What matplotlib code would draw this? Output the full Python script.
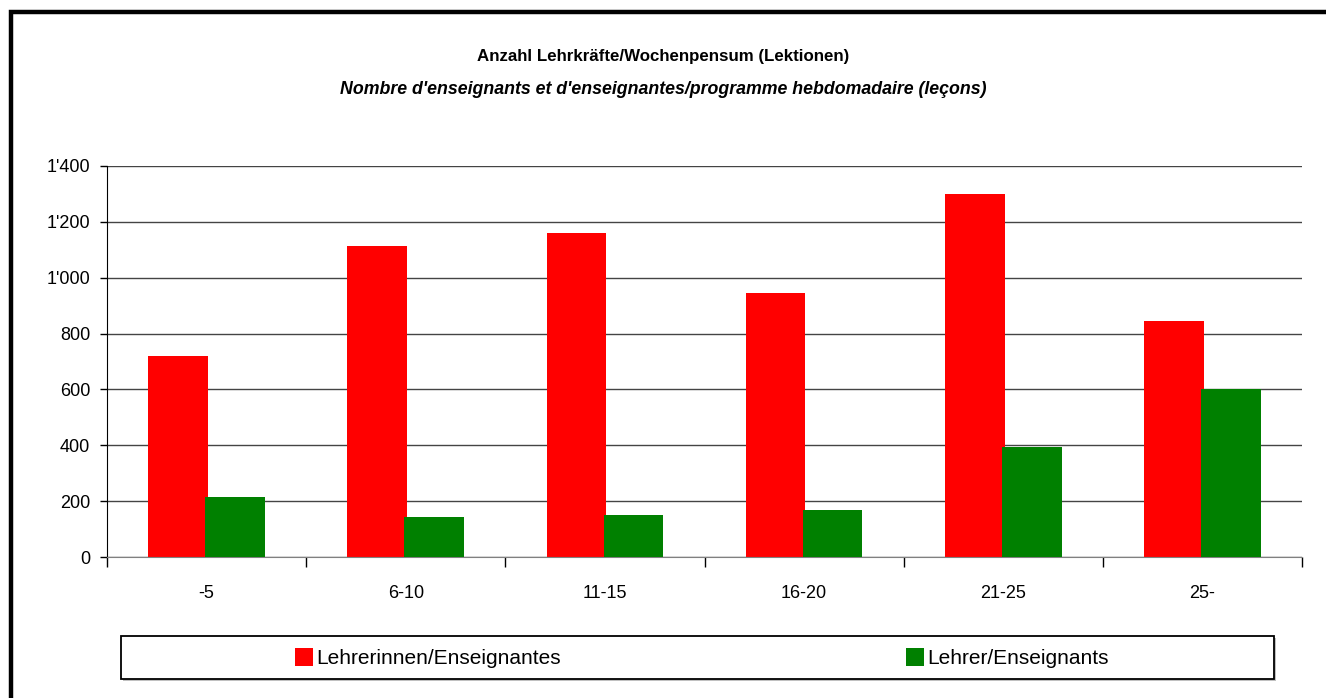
import matplotlib.pyplot as plt
from matplotlib.patches import Rectangle
from matplotlib.ticker import FuncFormatter
import numpy as np

plt.rcParams['font.family'] = ['Liberation Sans', 'DejaVu Sans']

################################ data ################################
categories = ['-5', '6-10', '11-15', '16-20', '21-25', '25-']
lehrerinnen = [720, 1112, 1161, 946, 1298, 844]
lehrer = [214, 143, 149, 168, 395, 601]
series_names = ['Lehrerinnen/Enseignantes', 'Lehrer/Enseignants']

title_de = 'Anzahl Lehrkräfte/Wochenpensum (Lektionen)'
title_fr = "Nombre d'enseignants et d'enseignantes/programme hebdomadaire (leçons)"

################################ figure ################################
W, H = 1326, 698
fig = plt.figure(figsize=(W / 100, H / 100), dpi=100)
fig.patch.set_facecolor('white')

# plot area in pixels: x 107..1302, y 166..557
ax = fig.add_axes([107 / W, 1 - 557 / H, (1302 - 107) / W, (557 - 166) / H])

x = np.arange(len(categories))
bw = 0.3
off = 0.143
b1 = ax.bar(x - off, lehrerinnen, bw, color='#FF0000', label=series_names[0], zorder=2)
b2 = ax.bar(x + off, lehrer, bw, color='#008000', label=series_names[1], zorder=3)

ax.set_xlim(-0.5, len(categories) - 0.5)
ax.set_ylim(0, 1400)
ax.set_yticks(np.arange(0, 1401, 200))
ax.yaxis.set_major_formatter(FuncFormatter(lambda v, p: '{:,}'.format(int(v)).replace(',', "'")))

ax.set_xticks(x)
ax.set_xticklabels(categories)
ax.set_xticks(np.arange(-0.5, len(categories)), minor=True)
ax.tick_params(axis='x', which='major', length=0, pad=20, labelsize=13)
ax.tick_params(axis='x', which='minor', length=7, width=1, color='black', direction='out')
ax.tick_params(axis='y', length=5, width=1, pad=7, labelsize=13, direction='out')

ax.grid(axis='y', color='#444444', linewidth=1)
ax.set_axisbelow(True)
for s in ['top', 'right']:
    ax.spines[s].set_visible(False)
ax.spines['left'].set_color('black')
ax.spines['bottom'].set_color('#808080')

# titles
fig.text(0.5, 1 - 57 / H, title_de, ha='center', va='center', fontsize=12.2, fontweight='bold')
fig.text(0.5, 1 - 89 / H, title_fr, ha='center', va='center', fontsize=12.8, fontstyle='italic',
         fontweight='bold')

# legend box with shadow
lx0, lx1, ly0, ly1 = 121, 1274, 636, 679
shadow = Rectangle(((lx0 + 2) / W, 1 - (ly1 + 2) / H), (lx1 - lx0) / W, (ly1 - ly0) / H,
                   transform=fig.transFigure, facecolor='#C0C0C0', edgecolor='none')
box = Rectangle((lx0 / W, 1 - ly1 / H), (lx1 - lx0) / W, (ly1 - ly0) / H,
                transform=fig.transFigure, facecolor='white', edgecolor='black', linewidth=1.3)
fig.patches.extend([shadow, box])

fig.legend(handles=[b1, b2], loc='center', bbox_to_anchor=(702 / W, 1 - 658 / H), ncol=2,
           frameon=False, fontsize=15, handlelength=0.85, handleheight=1.0,
           handletextpad=0.15, columnspacing=16.6)

# outer frame
frame = Rectangle((10.5 / W, -0.1), 1.2, 1 - 12.5 / H + 0.1, transform=fig.transFigure,
                  facecolor='none', edgecolor='black', linewidth=3.2, clip_on=False)
fig.patches.append(frame)

fig.savefig('out.png', dpi=100)
